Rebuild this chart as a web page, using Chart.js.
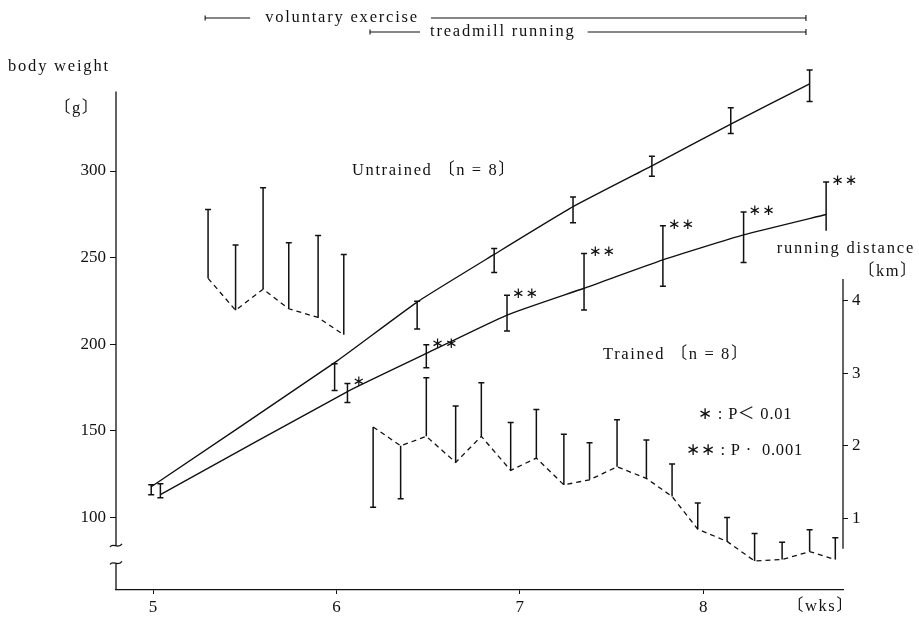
<!DOCTYPE html>
<html>
<head>
<meta charset="utf-8">
<script src="https://cdn.jsdelivr.net/npm/chart.js@4.4.1/dist/chart.umd.min.js"></script>
<style>
  html, body { margin: 0; background: #fff; }
  #wrap { width: 919px; height: 619px; position: relative; }
</style>
</head>
<body>
<div id="wrap"><canvas id="chart"></canvas></div>
<script>
// Axis ticks
const weekTicks = [5, 6, 7, 8];
const weightTicks = [100, 150, 200, 250, 300];
const distanceTicks = [1, 2, 3, 4];

// Body weight, untrained rats (line + error bar ends, g)
const untrainedWeeks = [4.99, 5.99, 6.44, 6.86, 7.29, 7.72, 8.15, 8.58];
const untrainedLine = [117.6, 189.3, 224.3, 251.8, 279.4, 303.0, 327.1, 350.4];
const untrainedLow = [113.0, 173.2, 208.8, 241.4, 270.1, 297.0, 321.7, 340.1];
const untrainedHigh = [118.8, 188.7, 224.8, 255.2, 285.0, 308.5, 336.6, 358.4];

// Body weight, trained rats
const trainedWeeks = [5.04, 6.06, 6.49, 6.93, 7.35, 7.78, 8.22, 8.67];
const trainedLine = [113.0, 172.6, 194.6, 216.8, 232.3, 248.7, 263.1, 274.9];
const trainedLow = [111.3, 166.3, 186.4, 207.6, 219.7, 233.4, 247.2, 265.5];
const trainedHigh = [119.3, 177.2, 199.6, 228.3, 252.3, 268.4, 276.4, 293.6];
const trainedSig = ["", "*", "**", "**", "**", "**", "**", "**"];

// Running distance (km), voluntary exercise period
const voluntaryWeeks = [5.30, 5.45, 5.60, 5.74, 5.90, 6.04];
const voluntaryKm = [4.31, 3.87, 4.16, 3.89, 3.77, 3.53];
const voluntaryWhisker = [5.26, 4.77, 5.56, 4.80, 4.90, 4.64];

// Running distance (km), treadmill period
const treadmillWeeks = [6.20, 6.35, 6.49, 6.65, 6.79, 6.95, 7.09, 7.24, 7.38,
  7.53, 7.69, 7.83, 7.97, 8.13, 8.28, 8.43, 8.58, 8.72];
const treadmillKm = [2.26, 2.00, 2.13, 1.77, 2.13, 1.66, 1.83, 1.46, 1.53,
  1.71, 1.55, 1.30, 0.85, 0.68, 0.41, 0.43, 0.54, 0.43];
const treadmillWhisker = [1.15, 1.27, 2.94, 2.55, 2.87, 2.32, 2.50, 2.16, 2.04,
  2.36, 2.08, 1.75, 1.21, 1.01, 0.79, 0.67, 0.84, 0.73];

// Periods shown at the top (weeks)
const voluntaryPeriod = [5.284, 8.56];
const treadmillPeriod = [6.183, 8.56];

const INK = "#111";
const SERIF = "'Liberation Serif', 'Noto Sans CJK JP', serif";

const toPoints = (xs, ys) => xs.map((v, i) => ({ x: v, y: ys[i] }));

// draw a vertical error bar between two pixel positions
const drawBar = (ctx, px, yA, yB, capA, capB) => {
  ctx.beginPath();
  ctx.moveTo(px, yA);
  ctx.lineTo(px, yB);
  if (capA) { ctx.moveTo(px - 3, yA); ctx.lineTo(px + 3, yA); }
  if (capB) { ctx.moveTo(px - 3, yB); ctx.lineTo(px + 3, yB); }
  ctx.stroke();
};

const drawText = (ctx, text, px, py, align = "left", size = 16.5, spacing = 1.8) => {
  ctx.font = `${size}px ${SERIF}`;
  ctx.letterSpacing = `${spacing}px`;
  ctx.textAlign = align;
  ctx.textBaseline = "middle";
  ctx.fillText(text, px, py);
  return ctx.measureText(text).width;
};

const tilde = (ctx, px, py) => {
  ctx.beginPath();
  ctx.moveTo(px - 6, py + 1);
  ctx.bezierCurveTo(px - 3, py - 4, px + 2, py + 4, px + 6, py - 2);
  ctx.stroke();
};

const annotate = {
  id: "annotate",
  afterDatasetsDraw(chart) {
    const { ctx, scales: { x, y, y2 } } = chart;
    ctx.save();
    ctx.strokeStyle = INK;
    ctx.lineWidth = 1.5;
    untrainedWeeks.forEach((w, i) => {
      drawBar(ctx, x.getPixelForValue(w), y.getPixelForValue(untrainedLow[i]),
        y.getPixelForValue(untrainedHigh[i]), true, true);
    });
    trainedWeeks.forEach((w, i) => {
      drawBar(ctx, x.getPixelForValue(w), y.getPixelForValue(trainedLow[i]),
        y.getPixelForValue(trainedHigh[i]), i < trainedWeeks.length - 1, true);
    });
    voluntaryWeeks.forEach((w, i) => {
      drawBar(ctx, x.getPixelForValue(w), y2.getPixelForValue(voluntaryKm[i]),
        y2.getPixelForValue(voluntaryWhisker[i]), false, true);
    });
    treadmillWeeks.forEach((w, i) => {
      drawBar(ctx, x.getPixelForValue(w), y2.getPixelForValue(treadmillKm[i]),
        y2.getPixelForValue(treadmillWhisker[i]), false, true);
    });

    // significance marks
    ctx.fillStyle = INK;
    trainedWeeks.forEach((w, i) => {
      if (!trainedSig[i]) return;
      ctx.font = "15px 'DejaVu Sans', sans-serif";
      ctx.letterSpacing = "1px";
      ctx.textAlign = "left";
      ctx.textBaseline = "middle";
      ctx.fillText(trainedSig[i].replace(/\*/g, "\u2217"),
        x.getPixelForValue(w) + 5, y.getPixelForValue(trainedHigh[i]) - 1);
    });
    ctx.restore();
  },
  afterDraw(chart) {
    const { ctx, chartArea, scales: { x, y, y2 } } = chart;
    ctx.save();
    ctx.strokeStyle = INK;
    ctx.fillStyle = INK;
    ctx.lineWidth = 1.3;

    // left axis with break
    const lx = chartArea.left;
    const breakTop = y.getPixelForValue(83.4);
    const breakBottom = y.getPixelForValue(73.3);
    ctx.beginPath();
    ctx.moveTo(lx, y.getPixelForValue(346));
    ctx.lineTo(lx, breakTop);
    ctx.moveTo(lx, breakBottom);
    ctx.lineTo(lx, chartArea.bottom);
    ctx.stroke();
    tilde(ctx, lx, breakTop);
    tilde(ctx, lx, breakBottom);

    // right axis (running distance)
    ctx.beginPath();
    ctx.moveTo(chartArea.right, y2.getPixelForValue(4.3));
    ctx.lineTo(chartArea.right, y2.getPixelForValue(0.58));
    ctx.stroke();

    // period bars on top
    [[voluntaryPeriod, "voluntary exercise", 18, 45], [treadmillPeriod, "treadmill running", 32, 50]]
      .forEach(([range, text, py, lead]) => {
        const sx = x.getPixelForValue(range[0]);
        const ex = x.getPixelForValue(range[1]);
        const tw = drawText(ctx, text, sx + 60, py);
        ctx.lineWidth = 1.1;
        ctx.beginPath();
        ctx.moveTo(sx, py);
        ctx.lineTo(sx + lead, py);
        ctx.moveTo(sx + 60 + tw + 12, py);
        ctx.lineTo(ex, py);
        ctx.moveTo(sx, py - 2.5);
        ctx.lineTo(sx, py + 2.5);
        ctx.moveTo(ex, py - 3);
        ctx.lineTo(ex, py + 3);
        ctx.stroke();
      });

    // axis titles
    drawText(ctx, "body weight", 8, 67);
    drawText(ctx, "\u3014g\u3015", 54, 109, "left", 16.5, 1.5);
    drawText(ctx, "running distance", 915, 249, "right");
    drawText(ctx, "\u3014km\u3015", 918, 272, "right", 16.5, 1.5);
    drawText(ctx, "\u3014wks\u3015", x.getPixelForValue(8.64), chartArea.bottom + 17, "center", 16.5, 1.5);

    // group labels and legend for significance
    drawText(ctx, "Untrained \u3014n = 8\u3015", x.getPixelForValue(6.085), y.getPixelForValue(300), "left", 16.5, 1.6);
    drawText(ctx, "Trained \u3014n = 8\u3015", x.getPixelForValue(7.454), y.getPixelForValue(194), "left", 16.5, 1.6);
    drawText(ctx, "\u2217 : P\uff1c 0.01", x.getPixelForValue(7.972), y.getPixelForValue(159.5), "left", 16.5, 0.8);
    drawText(ctx, "\u2217\u2217 : P \u00b7  0.001", x.getPixelForValue(7.906), y.getPixelForValue(138.3), "left", 16.5, 0.8);
    ctx.restore();
  },
};

const tickFont = { family: SERIF, size: 17 };

new Chart(document.getElementById("chart"), {
  type: "line",
  data: {
    datasets: [
      {
        label: "Untrained",
        data: toPoints(untrainedWeeks, untrainedLine),
        yAxisID: "y",
        borderColor: INK,
        borderWidth: 1.4,
        pointRadius: 0,
        tension: 0.15,
      },
      {
        label: "Trained",
        data: toPoints(trainedWeeks, trainedLine),
        yAxisID: "y",
        borderColor: INK,
        borderWidth: 1.4,
        pointRadius: 0,
        tension: 0.15,
      },
      {
        label: "Voluntary running distance",
        data: toPoints(voluntaryWeeks, voluntaryKm),
        yAxisID: "y2",
        borderColor: INK,
        borderWidth: 1.3,
        borderDash: [5, 4],
        pointRadius: 0,
      },
      {
        label: "Treadmill running distance",
        data: toPoints(treadmillWeeks, treadmillKm),
        yAxisID: "y2",
        borderColor: INK,
        borderWidth: 1.3,
        borderDash: [5, 4],
        pointRadius: 0,
      },
    ],
  },
  options: {
    responsive: true,
    maintainAspectRatio: false,
    animation: false,
    layout: { padding: { top: 10, left: 0, right: 0, bottom: 0 } },
    plugins: { legend: { display: false }, tooltip: { enabled: false } },
    scales: {
      x: {
        type: "linear",
        min: 4.798,
        max: 8.762,
        afterBuildTicks: (s) => { s.ticks = weekTicks.map((v) => ({ value: v })); },
        afterFit: (s) => { s.height = 29; },
        grid: { drawOnChartArea: false, tickLength: 4, color: INK },
        border: { display: true, color: INK, width: 1.3 },
        ticks: { font: tickFont, color: INK, padding: 3, maxRotation: 0, autoSkip: false },
      },
      y: {
        position: "left",
        min: 57.96,
        max: 390.6,
        afterBuildTicks: (s) => { s.ticks = weightTicks.map((v) => ({ value: v })); },
        afterFit: (s) => { s.width = 116; },
        grid: { drawOnChartArea: false, tickLength: 6, color: INK },
        border: { display: false },
        ticks: { font: tickFont, color: INK, padding: 4 },
      },
      y2: {
        position: "right",
        min: 0.01,
        max: 7.954,
        afterBuildTicks: (s) => { s.ticks = distanceTicks.map((v) => ({ value: v })); },
        afterFit: (s) => { s.width = 76; },
        grid: { drawOnChartArea: false, tickLength: 5, color: INK },
        border: { display: false },
        ticks: { font: tickFont, color: INK, padding: 4 },
      },
    },
  },
  plugins: [annotate],
});
</script>
</body>
</html>
